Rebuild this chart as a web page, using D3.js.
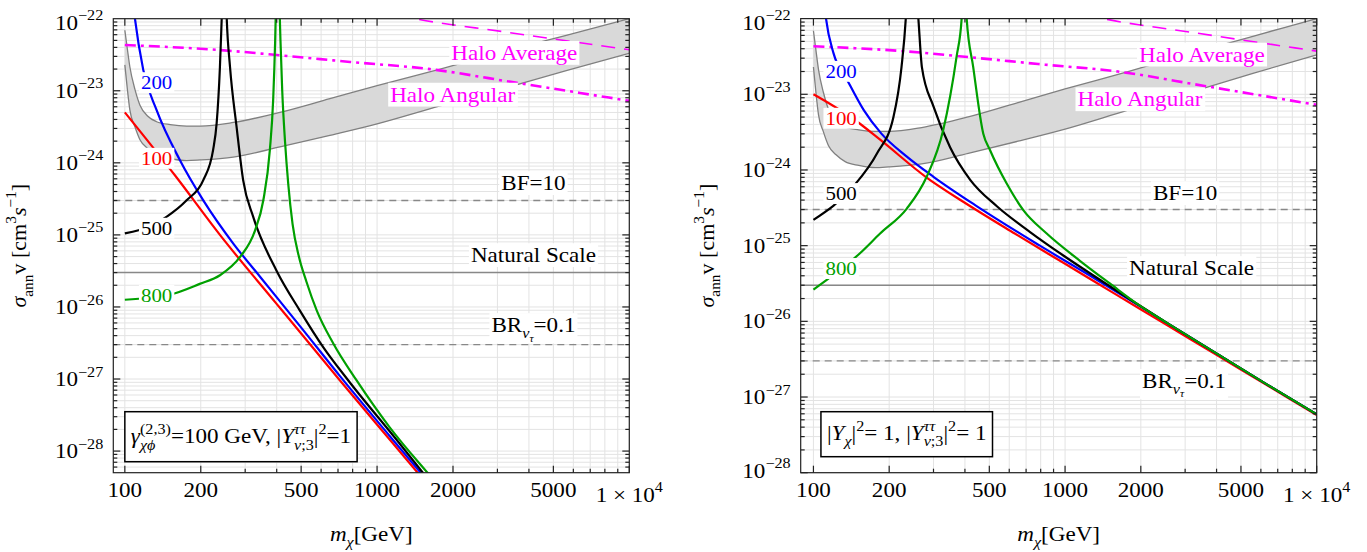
<!doctype html>
<html lang="en">
<head>
<meta charset="utf-8">
<title>Annihilation cross section vs m_chi</title>
<script src="https://d3js.org/d3.v7.min.js"></script>
<style>
  body { margin: 0; background: #fff; }
  svg text { font-family: "Liberation Serif", "Times New Roman", serif; }
</style>
</head>
<body>
<svg id="chart" width="1367" height="552" font-family="Liberation Serif, serif"></svg>
<script>
// all curves as [log10 m_chi (GeV), log10 sigma v (cm^3/s)]

// gray band (same in both panels)
var bandLogM  = [2.0, 2.01, 2.02, 2.04, 2.06, 2.09, 2.126, 2.18, 2.245, 2.3, 2.43, 2.615, 2.813, 3.0, 3.25, 3.5, 3.75, 4.0];
var bandUpper = [-22.16, -22.42, -22.67, -22.98, -23.20, -23.35, -23.43, -23.47, -23.49, -23.49, -23.44, -23.30, -23.11, -22.93, -22.70, -22.46, -22.23, -22.00];
var bandLower = [-22.64, -22.98, -23.27, -23.50, -23.68, -23.80, -23.89, -23.94, -23.97, -23.96, -23.92, -23.78, -23.62, -23.46, -23.21, -22.97, -22.72, -22.48];

var haloAverage = [[2.9, -21.8], [3.151, -22.0], [3.5, -22.18], [4.0, -22.43]];
var haloAngular = [[2.0, -22.365], [2.377, -22.435], [2.65, -22.52], [2.893, -22.60], [3.21, -22.70], [3.554, -22.89], [4.0, -23.14]];

// BF=10, natural scale, BR=0.1
var refLevels = [3e-25, 3e-26, 3e-27];

var mediatorMasses = ["100", "200", "500", "800"];

// left panel: gamma = 100 GeV
var left100 = [[2.0, -23.30], [2.2, -24.18], [2.377, -25.00], [2.6, -25.95], [2.853, -27.02], [3.05, -27.84], [3.25, -28.67]];
var left200 = [[2.03, -21.7], [2.04, -22.0], [2.073, -22.71], [2.126, -23.27], [2.218, -23.96], [2.311, -24.52], [2.43, -25.12], [2.536, -25.58], [2.7, -26.29], [2.853, -26.96], [3.05, -27.79], [3.25, -28.62]];
var left500lo = [[2.0, -24.98], [2.1, -24.88], [2.165, -24.75], [2.245, -24.52], [2.311, -24.24], [2.35, -23.82], [2.364, -23.45], [2.377, -22.67], [2.384, -22.0], [2.387, -21.7]];
var left500hi = [[2.401, -21.7], [2.404, -22.0], [2.417, -22.67], [2.443, -23.5], [2.469, -24.24], [2.509, -24.75], [2.602, -25.5], [2.694, -26.05], [2.787, -26.56], [2.886, -27.02], [3.079, -27.85], [3.25, -28.6]];
var left800lo = [[2.0, -25.90], [2.178, -25.83], [2.297, -25.68], [2.377, -25.56], [2.456, -25.31], [2.516, -24.94], [2.549, -24.52], [2.575, -23.82], [2.588, -23.13], [2.596, -22.3], [2.6, -21.7]];
var left800hi = [[2.612, -21.7], [2.617, -22.3], [2.624, -23.0], [2.635, -23.7], [2.648, -24.3], [2.665, -24.85], [2.69, -25.3], [2.72, -25.65], [2.761, -26.05], [2.827, -26.51], [2.919, -27.02], [3.05, -27.67], [3.2, -28.3], [3.3, -28.7]];

// right panel: |Y_chi|^2 = 1
var right100 = [[2.0, -23.0], [2.165, -23.34], [2.265, -23.6], [2.45, -24.1], [2.6, -24.43], [2.8, -24.84], [3.0, -25.24], [3.2, -25.64], [3.4, -26.04], [3.6, -26.44], [3.8, -26.84], [4.0, -27.24]];
var right200 = [[2.04, -21.7], [2.05, -22.0], [2.08, -22.46], [2.134, -22.81], [2.2, -23.21], [2.27, -23.52], [2.37, -23.82], [2.477, -24.09], [2.65, -24.48], [2.9, -25.0], [3.126, -25.45], [3.4, -26.01], [3.6, -26.42], [3.8, -26.83], [4.0, -27.23]];
var right500lo = [[2.0, -24.66], [2.158, -24.22], [2.253, -23.78], [2.318, -23.30], [2.35, -22.64], [2.367, -22.0], [2.372, -21.7]];
var right500hi = [[2.41, -21.7], [2.417, -22.0], [2.431, -22.64], [2.477, -23.16], [2.543, -23.7], [2.623, -24.13], [2.729, -24.48], [2.861, -24.82], [2.993, -25.13], [3.152, -25.48], [3.4, -26.01], [3.6, -26.42], [3.8, -26.83], [4.0, -27.23]];
var right800lo = [[2.0, -25.58], [2.185, -25.10], [2.265, -24.84], [2.371, -24.51], [2.45, -24.09], [2.516, -23.47], [2.569, -22.50], [2.589, -22.0], [2.594, -21.7]];
var right800hi = [[2.604, -21.7], [2.609, -22.0], [2.635, -22.64], [2.675, -23.52], [2.702, -23.74], [2.768, -24.18], [2.834, -24.53], [2.927, -24.84], [3.059, -25.2], [3.178, -25.5], [3.3, -25.8], [3.4, -26.01], [3.6, -26.42], [3.8, -26.83], [4.0, -27.23]];

var xTickValues = [100, 200, 500, 1000, 2000, 5000, 10000];
var yTickExps = [-28, -27, -26, -25, -24, -23, -22];

var colors = {"100": "#ff0000", "200": "#0000ff", "500": "#000000", "800": "#00a000"};
var SX = 1.1; // the original figure is slightly wide-set

var svg = d3.select("#chart");

// lay out a run of text pieces (sub/superscripts) left to right, baseline at 0
function mathText(g, segs, size, color) {
  var x = 0, prevStart = 0, lastEnd = 0;
  segs.forEach(function(s) {
    var sc = s.s || 1;
    var start = s.over ? prevStart : (s.chain ? lastEnd : x);
    var t = g.append("text")
      .attr("x", start)
      .attr("y", (s.dy || 0) * size)
      .attr("font-size", size * sc)
      .attr("font-style", s.it ? "italic" : null)
      .attr("fill", color || "#000")
      .text(s.t);
    var w = t.node().getComputedTextLength();
    lastEnd = start + w;
    x = Math.max(x, lastEnd);
    if (!s.over && !s.chain) prevStart = start;
  });
  return x;
}

function placeMath(parent, segs, size, color, x, y, anchor, bg) {
  var g = parent.append("g");
  var w = mathText(g, segs, size, color) * SX;
  var dx = anchor === "middle" ? -w / 2 : (anchor === "end" ? -w : 0);
  g.attr("transform", "translate(" + (x + dx) + "," + y + ") scale(" + SX + ",1)");
  if (bg) {
    var b = g.node().getBBox();
    parent.insert("rect", function() { return g.node(); })
      .attr("x", x + dx + b.x * SX - 2).attr("y", y + b.y)
      .attr("width", b.width * SX + 4).attr("height", b.height)
      .attr("fill", "#fff");
  }
  return w;
}

var SUP = -0.45, SUB = 0.3;

var panels = [
  {
    x0: 113.3, x1: 629.3, y0: 18.7, y1: 472.7, mMin: 90, sMin: Math.pow(10, -28.3),
    curves: [["100", left100], ["200", left200], ["500", left500lo], ["500", left500hi], ["800", left800lo], ["800", left800hi]],
    curveLabelAt: {"100": [2.126, -24.03], "200": [2.126, -22.98], "500": [2.126, -25.0], "800": [2.126, -25.93]},
    refLabelAt: [[3.62, -24.38], [3.62, -25.38], [3.62, -26.35]],
    haloAvgAt: [3.544, -22.574], haloAngAt: [3.30, -23.153],
    box: {dx: 0, top: 411.7, h: 50, base: 443.3},
    boxText: [{t: "γ", it: 1}, {t: "(2,3)", s: 0.7, dy: SUP}, {t: "χϕ", it: 1, s: 0.7, dy: SUB, over: 1},
      {t: "=100 GeV, |"}, {t: "Y", it: 1}, {t: "ττ", it: 1, s: 0.7, dy: SUP}, {t: "ν", it: 1, s: 0.7, dy: SUB, over: 1},
      {t: ";3", s: 0.7, dy: SUB, chain: 1}, {t: "|"}, {t: "2", s: 0.7, dy: SUP}, {t: "=1"}]
  },
  {
    x0: 800.7, x1: 1316.7, y0: 18.6, y1: 472.7, mMin: 89, sMin: 1e-28,
    curves: [["100", right100], ["200", right200], ["500", right500lo], ["500", right500hi], ["800", right800lo], ["800", right800hi]],
    curveLabelAt: {"100": [2.11, -23.405], "200": [2.11, -22.785], "500": [2.11, -24.40], "800": [2.11, -25.39]},
    refLabelAt: [[3.477, -24.40], [3.503, -25.39], [3.473, -26.88]],
    haloAvgAt: [3.544, -22.57], haloAngAt: [3.298, -23.16],
    box: {dx: 7.5, top: 411.7, h: 45, base: 440},
    boxText: [{t: "|"}, {t: "Y", it: 1}, {t: "χ", it: 1, s: 0.7, dy: SUB}, {t: "|"}, {t: "2", s: 0.7, dy: SUP},
      {t: "= 1, |"}, {t: "Y", it: 1}, {t: "ττ", it: 1, s: 0.7, dy: SUP}, {t: "ν", it: 1, s: 0.7, dy: SUB, over: 1},
      {t: ";3", s: 0.7, dy: SUB, chain: 1}, {t: "|"}, {t: "2", s: 0.7, dy: SUP}, {t: "= 1"}]
  }
];

panels.forEach(function(p, pi) {
  var x = d3.scaleLog().domain([p.mMin, 10000]).range([p.x0, p.x1]);
  var y = d3.scaleLog().domain([p.sMin, 1e-22]).range([p.y1, p.y0]);
  var px = function(lm) { return x(Math.pow(10, lm)); };
  var py = function(ls) { return y(Math.pow(10, ls)); };

  var g = svg.append("g");
  var clipId = "clip" + pi;
  svg.append("clipPath").attr("id", clipId).append("rect")
    .attr("x", p.x0).attr("y", p.y0).attr("width", p.x1 - p.x0).attr("height", p.y1 - p.y0);

  // grid
  var xGrid = [];
  [100, 1000].forEach(function(d) { for (var k = 1; k <= 9; k++) xGrid.push(d * k); });
  xGrid.push(10000);
  var yGrid = [];
  for (var e = -29; e <= -23; e++) for (var k = 1; k <= 9; k++) {
    var v = k * Math.pow(10, e);
    if (v >= p.sMin * 0.999 && v <= 1.0001e-22) yGrid.push(v);
  }
  var grid = g.append("g").attr("stroke", "#e3e3e3").attr("stroke-width", 1);
  grid.selectAll("line.gx").data(xGrid).join("line")
    .attr("x1", function(d) { return x(d); }).attr("x2", function(d) { return x(d); })
    .attr("y1", p.y0).attr("y2", p.y1);
  grid.selectAll("line.gy").data(yGrid).join("line")
    .attr("y1", function(d) { return y(d); }).attr("y2", function(d) { return y(d); })
    .attr("x1", p.x0).attr("x2", p.x1);

  var plot = g.append("g").attr("clip-path", "url(#" + clipId + ")");
  var line = d3.line().x(function(d) { return px(d[0]); }).y(function(d) { return py(d[1]); })
    .curve(d3.curveMonotoneX);

  // gray band
  var band = bandLogM.map(function(m, i) { return [m, bandUpper[i], bandLower[i]]; });
  plot.append("path").datum(band)
    .attr("d", d3.area().x(function(d) { return px(d[0]); })
      .y0(function(d) { return py(d[2]); }).y1(function(d) { return py(d[1]); })
      .curve(d3.curveMonotoneX))
    .attr("fill", "#d9d9d9");
  [bandUpper, bandLower].forEach(function(arr) {
    plot.append("path").datum(bandLogM.map(function(m, i) { return [m, arr[i]]; }))
      .attr("d", line).attr("fill", "none").attr("stroke", "#808080").attr("stroke-width", 1.3);
  });

  // reference levels
  refLevels.forEach(function(v, i) {
    plot.append("line")
      .attr("x1", p.x0).attr("x2", p.x1).attr("y1", y(v)).attr("y2", y(v))
      .attr("stroke", "#888").attr("stroke-width", 1.4)
      .attr("stroke-dasharray", i === 1 ? null : "7,5");
  });

  // halo limits
  plot.append("path").datum(haloAverage).attr("d", line)
    .attr("fill", "none").attr("stroke", "#ff00ff").attr("stroke-width", 1.6).attr("stroke-dasharray", "14,9");
  plot.append("path").datum(haloAngular).attr("d", line)
    .attr("fill", "none").attr("stroke", "#ff00ff").attr("stroke-width", 2.6).attr("stroke-dasharray", "11,5,3,5");

  // mediator curves
  p.curves.forEach(function(c) {
    plot.append("path").datum(c[1]).attr("d", line)
      .attr("fill", "none").attr("stroke", colors[c[0]]).attr("stroke-width", 2.2);
  });

  // labels
  var lab = g.append("g");
  mediatorMasses.forEach(function(mm) {
    var at = p.curveLabelAt[mm];
    placeMath(lab, [{t: mm}], 19, colors[mm], px(at[0]), py(at[1]), "middle", true);
  });
  placeMath(lab, [{t: "Halo Average"}], 21, "#ff00ff", px(p.haloAvgAt[0]), py(p.haloAvgAt[1]), "middle", true);
  placeMath(lab, [{t: "Halo Angular"}], 21, "#ff00ff", px(p.haloAngAt[0]), py(p.haloAngAt[1]), "middle", true);
  var refText = [
    [{t: "BF=10"}],
    [{t: "Natural Scale"}],
    [{t: "BR"}, {t: "ν", it: 1, s: 0.7, dy: 0.28}, {t: "τ", it: 1, s: 0.5, dy: 0.45}, {t: " =0.1"}]
  ];
  refText.forEach(function(segs, i) {
    var at = p.refLabelAt[i];
    placeMath(lab, segs, 21, "#000", px(at[0]), py(at[1]), "middle", true);
  });

  // frame and ticks
  var fr = g.append("g").attr("stroke", "#222").attr("stroke-width", 1.2);
  fr.append("rect").attr("x", p.x0).attr("y", p.y0).attr("width", p.x1 - p.x0).attr("height", p.y1 - p.y0)
    .attr("fill", "none");
  xGrid.forEach(function(d) {
    var len = xTickValues.indexOf(d) >= 0 ? 7 : 4;
    fr.append("line").attr("x1", x(d)).attr("x2", x(d)).attr("y1", p.y1).attr("y2", p.y1 - len);
    fr.append("line").attr("x1", x(d)).attr("x2", x(d)).attr("y1", p.y0).attr("y2", p.y0 + len);
  });
  yGrid.forEach(function(d) {
    var isMajor = Math.abs(Math.log10(d) - Math.round(Math.log10(d))) < 1e-6;
    var len = isMajor ? 7 : 4;
    fr.append("line").attr("y1", y(d)).attr("y2", y(d)).attr("x1", p.x0).attr("x2", p.x0 + len);
    fr.append("line").attr("y1", y(d)).attr("y2", y(d)).attr("x1", p.x1).attr("x2", p.x1 - len);
  });

  // tick labels
  var tl = g.append("g");
  xTickValues.forEach(function(d) {
    if (d === 10000) {
      placeMath(tl, [{t: "1 × 10"}, {t: "4", s: 0.7, dy: SUP}], 21, "#000", x(d), p.y1 + 29, "middle");
    } else {
      placeMath(tl, [{t: String(d)}], 21, "#000", x(d), p.y1 + 24, "middle");
    }
  });
  yTickExps.forEach(function(e) {
    var ty = y(Math.pow(10, e));
    var base = Math.max(p.y0 + 11, Math.min(ty + 7, p.y1 + 5));
    placeMath(tl, [{t: "10"}, {t: "−" + (-e), s: 0.7, dy: SUP}], 21, "#000", p.x0 - 10, base, "end");
  });

  // axis titles
  var yt = g.append("g");
  var wy = mathText(yt, [{t: "σ", it: 1}, {t: "ann", s: 0.7, dy: SUB}, {t: "v [cm"}, {t: "3", s: 0.7, dy: SUP},
    {t: " "}, {t: "s", it: 1}, {t: "−1", s: 0.7, dy: SUP}, {t: "]"}], 22, "#000");
  yt.attr("transform", "translate(" + (p.x0 - 87) + "," + ((p.y0 + p.y1) / 2) + ") rotate(-90) translate(" + (-wy / 2) + ",0)");
  placeMath(g, [{t: "m", it: 1}, {t: "χ", it: 1, s: 0.7, dy: SUB}, {t: "[GeV]"}], 21, "#000",
    (p.x0 + p.x1) / 2, 541, "middle");

  // parameter box
  var bx = x(100) + p.box.dx;
  var bg = g.append("g");
  var brect = bg.append("rect");
  var tg = bg.append("g");
  var wb = mathText(tg, p.boxText, 21, "#000") * SX;
  tg.attr("transform", "translate(" + (bx + 6) + "," + p.box.base + ") scale(" + SX + ",1)");
  brect.attr("x", bx).attr("y", p.box.top).attr("width", wb + 12).attr("height", p.box.h)
    .attr("fill", "#fff").attr("stroke", "#000").attr("stroke-width", 1.5);
});
</script>
</body>
</html>
